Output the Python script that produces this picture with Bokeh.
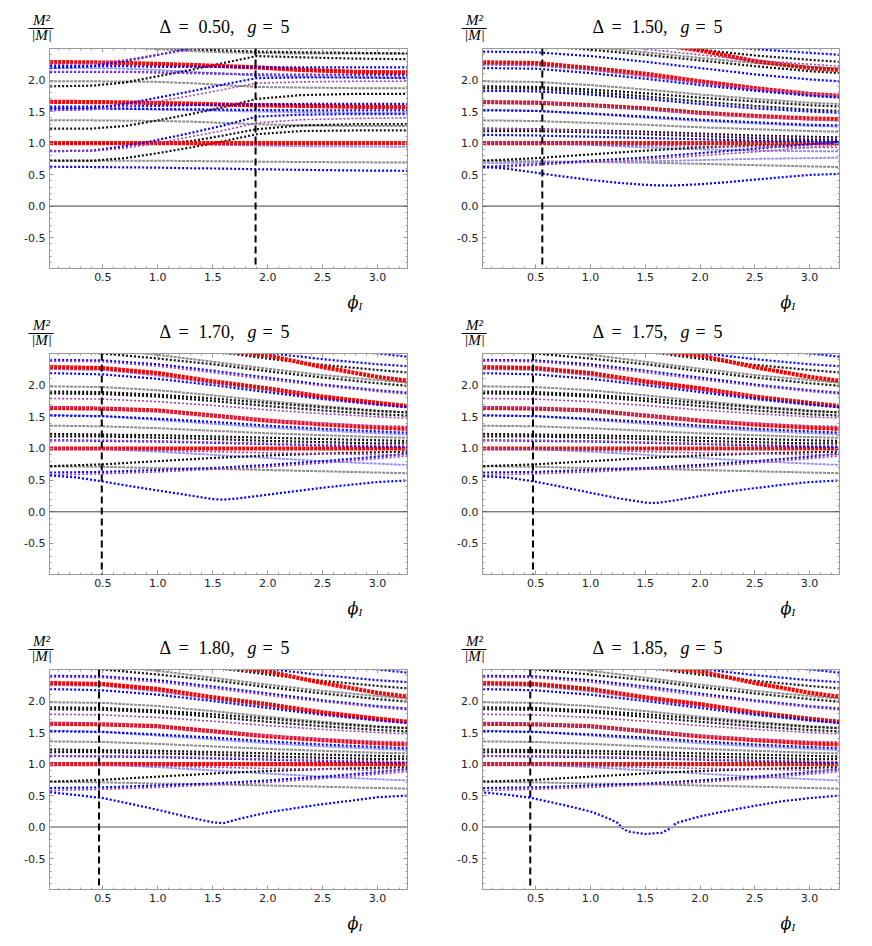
from bokeh.plotting import figure
from bokeh.models import Span, FixedTicker, LinearAxis, PrintfTickFormatter, Range1d
from bokeh.layouts import column, row
from bokeh.core.properties import value
from bokeh.embed import file_html
from bokeh.resources import INLINE

# ---------------- data ----------------
DELTAS = ["0.50", "1.50", "1.70", "1.75", "1.80", "1.85"]
DASH_X = [1.89, 0.56, 0.49, 0.475, 0.465, 0.45]
XTICKS = [0.5, 1.0, 1.5, 2.0, 2.5, 3.0]
YTICKS = [-0.5, 0.0, 0.5, 1.0, 1.5, 2.0]

X10 = [0.02, 0.4, 0.7, 1.0, 1.3, 1.6, 1.9, 2.3, 2.8, 3.27]
X8 = [0.02, 0.5, 1.0, 1.5, 2.0, 2.5, 3.0, 3.27]
XD = [0.02, 0.25, 0.5, 0.75, 1.0, 1.25, 1.5, 1.6, 1.75, 2.0, 2.25, 2.5, 2.75, 3.0, 3.27]
XD6 = [0.03, 0.26, 0.445, 0.75, 1.0, 1.17, 1.25, 1.28, 1.34, 1.5, 1.65, 1.74, 1.78, 2.0, 2.25, 2.5, 2.75, 3.0, 3.27]
XRT = [1.65, 2.0, 2.5, 3.0, 3.27]
XRT2 = [1.75, 2.0, 2.5, 3.0, 3.27]

# panel 1 (Delta = 0.50), on X10
P1_RED = [
    [1.0, 1.0, 1.0, 1.0, 1.0, 1.0, 1.0, 1.0, 1.0, 1.0],
    [1.655, 1.65, 1.645, 1.635, 1.625, 1.61, 1.60, 1.59, 1.575, 1.57],
    [2.285, 2.28, 2.27, 2.255, 2.24, 2.22, 2.20, 2.16, 2.13, 2.12],
]
P1_BLUE = [
    [0.625, 0.62, 0.615, 0.61, 0.60, 0.595, 0.585, 0.575, 0.565, 0.56],
    [0.87, 0.88, 0.95, 1.05, 1.16, 1.28, 1.42, 1.45, 1.46, 1.46],
    [1.52, 1.54, 1.62, 1.72, 1.82, 1.93, 2.03, 2.04, 2.04, 2.03],
    [2.19, 2.22, 2.30, 2.40, 2.50, 2.60, 2.70, 2.70, 2.70, 2.70],
    [1.58, 1.58, 1.585, 1.59, 1.60, 1.61, 1.615, 1.62, 1.62, 1.62],
    [1.55, 1.55, 1.545, 1.54, 1.535, 1.53, 1.525, 1.52, 1.52, 1.52],
    [2.13, 2.13, 2.13, 2.12, 2.11, 2.10, 2.09, 2.085, 2.08, 2.08],
    [2.22, 2.22, 2.22, 2.21, 2.21, 2.21, 2.20, 2.20, 2.20, 2.20],
]
P1_PURPLE = [
    [0.87, 0.87, 0.92, 1.0, 1.1, 1.2, 1.32, 1.37, 1.39, 1.40],
    [1.52, 1.53, 1.58, 1.66, 1.75, 1.85, 1.95, 1.97, 1.98, 1.98],
    [2.13, 2.13, 2.13, 2.12, 2.11, 2.10, 2.09, 2.08, 2.07, 2.06],
    [2.25, 2.26, 2.32, 2.40, 2.48, 2.56, 2.62, 2.62, 2.62, 2.62],
]
P1_BLACK = [
    [0.72, 0.72, 0.76, 0.84, 0.93, 1.03, 1.14, 1.19, 1.20, 1.20],
    [1.23, 1.23, 1.27, 1.36, 1.46, 1.57, 1.70, 1.76, 1.78, 1.78],
    [1.90, 1.91, 1.96, 2.06, 2.16, 2.27, 2.38, 2.36, 2.34, 2.33],
    [1.0, 1.0, 1.0, 1.0, 1.03, 1.12, 1.22, 1.28, 1.30, 1.30],
    [2.62, 2.60, 2.56, 2.52, 2.49, 2.47, 2.45, 2.44, 2.43, 2.42],
]
P1_GRAY = [
    [0.72, 0.72, 0.72, 0.72, 0.715, 0.71, 0.705, 0.70, 0.695, 0.69],
    [1.36, 1.36, 1.355, 1.35, 1.34, 1.32, 1.30, 1.28, 1.27, 1.27],
    [1.98, 1.98, 1.975, 1.97, 1.95, 1.92, 1.89, 1.88, 1.87, 1.87],
    [2.56, 2.55, 2.52, 2.49, 2.46, 2.44, 2.43, 2.42, 2.42, 2.42],
]
P1_LBLUE = [
    [1.0, 1.0, 0.995, 0.99, 0.98, 0.97, 0.96, 0.95, 0.945, 0.94],
    [1.55, 1.55, 1.54, 1.53, 1.52, 1.51, 1.50, 1.49, 1.48, 1.48],
    [2.19, 2.19, 2.18, 2.16, 2.13, 2.10, 2.07, 2.05, 2.04, 2.03],
]

# panel 2 (Delta = 1.50), on X8
P2_RED = [
    [1.0, 1.0, 1.0, 1.0, 1.0, 1.0, 1.0, 1.0],
    [1.65, 1.64, 1.60, 1.55, 1.48, 1.43, 1.39, 1.38],
    [2.28, 2.27, 2.19, 2.10, 1.98, 1.87, 1.78, 1.75],
]
P2_RED_TOP = [2.53, 2.47, 2.30, 2.19, 2.16]
P2_DIP = [0.63, 0.59, 0.53, 0.47, 0.415, 0.37, 0.337, 0.33, 0.326, 0.347, 0.38, 0.42, 0.458, 0.495, 0.51]
P2_BLUE = [
    [0.62, 0.66, 0.72, 0.77, 0.84, 0.91, 0.98, 1.02],
    [1.13, 1.12, 1.10, 1.08, 1.06, 1.04, 1.03, 1.02],
    [1.52, 1.51, 1.47, 1.42, 1.37, 1.33, 1.29, 1.28],
    [1.83, 1.82, 1.77, 1.70, 1.62, 1.55, 1.50, 1.48],
    [2.19, 2.18, 2.11, 2.02, 1.92, 1.83, 1.75, 1.72],
    [2.45, 2.44, 2.38, 2.29, 2.19, 2.09, 2.01, 1.98],
    [2.90, 2.85, 2.77, 2.68, 2.58, 2.49, 2.43, 2.40],
]
P2_PURPLE = [
    [0.60, 0.65, 0.70, 0.74, 0.80, 0.86, 0.93, 0.97],
    [1.0, 1.0, 0.98, 0.96, 0.95, 0.94, 0.93, 0.93],
    [1.23, 1.22, 1.19, 1.16, 1.13, 1.10, 1.08, 1.07],
    [1.65, 1.64, 1.59, 1.53, 1.47, 1.41, 1.37, 1.35],
    [2.24, 2.23, 2.16, 2.06, 1.96, 1.86, 1.78, 1.75],
    [2.70, 2.66, 2.58, 2.49, 2.40, 2.31, 2.25, 2.22],
]
P2_BLACK = [
    [0.72, 0.76, 0.82, 0.88, 0.93, 0.96, 0.98, 0.99],
    [1.19, 1.19, 1.17, 1.14, 1.11, 1.08, 1.06, 1.05],
    [1.23, 1.22, 1.20, 1.18, 1.15, 1.12, 1.10, 1.09],
    [1.87, 1.86, 1.81, 1.74, 1.66, 1.59, 1.53, 1.51],
    [1.90, 1.89, 1.85, 1.79, 1.72, 1.66, 1.60, 1.58],
    [2.60, 2.55, 2.48, 2.40, 2.31, 2.22, 2.14, 2.11],
    [2.80, 2.75, 2.67, 2.58, 2.48, 2.39, 2.32, 2.29],
]
P2_GRAY = [
    [0.72, 0.71, 0.70, 0.69, 0.67, 0.65, 0.63, 0.62],
    [1.36, 1.35, 1.32, 1.29, 1.25, 1.22, 1.19, 1.18],
    [1.98, 1.97, 1.92, 1.85, 1.77, 1.70, 1.64, 1.62],
    [2.65, 2.60, 2.52, 2.44, 2.35, 2.27, 2.21, 2.18],
]
P2_LBLUE = [
    [0.68, 0.69, 0.70, 0.71, 0.73, 0.75, 0.76, 0.77],
    [1.0, 1.0, 0.97, 0.93, 0.90, 0.88, 0.87, 0.87],
    [1.53, 1.51, 1.46, 1.40, 1.35, 1.31, 1.27, 1.26],
    [2.25, 2.24, 2.16, 2.06, 1.95, 1.85, 1.77, 1.74],
]

# panels 3-6 (Delta = 1.70 ... 1.85): upper spectrum, on X8
B_RED = [
    [1.0, 1.0, 1.0, 1.0, 1.0, 1.0, 1.0, 1.0],
    [1.64, 1.63, 1.60, 1.52, 1.44, 1.38, 1.33, 1.31],
    [2.285, 2.27, 2.19, 2.06, 1.95, 1.82, 1.72, 1.67],
]
B_RED_TOP = [2.53, 2.47, 2.285, 2.13, 2.07]
B_BLUE = [
    [0.62, 0.63, 0.66, 0.69, 0.74, 0.80, 0.87, 0.92],
    [1.13, 1.12, 1.11, 1.09, 1.07, 1.05, 1.03, 1.02],
    [1.52, 1.51, 1.47, 1.42, 1.36, 1.31, 1.27, 1.25],
    [2.19, 2.17, 2.10, 2.00, 1.89, 1.78, 1.69, 1.65],
    [2.40, 2.39, 2.33, 2.23, 2.12, 2.01, 1.92, 1.88],
    [2.85, 2.80, 2.72, 2.62, 2.51, 2.41, 2.33, 2.30],
    [3.00, 2.95, 2.88, 2.78, 2.68, 2.58, 2.50, 2.45],
]
B_PURPLE = [
    [0.58, 0.60, 0.63, 0.67, 0.71, 0.77, 0.84, 0.88],
    [1.0, 0.99, 0.97, 0.95, 0.93, 0.92, 0.90, 0.90],
    [1.13, 1.13, 1.12, 1.10, 1.08, 1.06, 1.05, 1.04],
    [1.65, 1.64, 1.59, 1.52, 1.45, 1.40, 1.36, 1.35],
    [1.79, 1.78, 1.74, 1.68, 1.61, 1.55, 1.50, 1.48],
    [2.38, 2.37, 2.30, 2.20, 2.09, 1.99, 1.90, 1.86],
]
B_BLACK = [
    [0.72, 0.75, 0.80, 0.85, 0.89, 0.92, 0.94, 0.95],
    [1.19, 1.19, 1.17, 1.15, 1.12, 1.10, 1.08, 1.08],
    [1.23, 1.22, 1.21, 1.19, 1.17, 1.15, 1.13, 1.12],
    [1.87, 1.86, 1.82, 1.75, 1.67, 1.60, 1.54, 1.52],
    [1.90, 1.89, 1.85, 1.79, 1.72, 1.65, 1.59, 1.57],
    [2.55, 2.50, 2.42, 2.33, 2.22, 2.12, 2.03, 1.99],
    [2.75, 2.70, 2.62, 2.53, 2.42, 2.32, 2.24, 2.20],
]
B_GRAY = [
    [0.72, 0.71, 0.69, 0.68, 0.66, 0.64, 0.62, 0.61],
    [1.36, 1.35, 1.32, 1.28, 1.24, 1.21, 1.18, 1.17],
    [1.98, 1.97, 1.92, 1.84, 1.75, 1.67, 1.60, 1.57],
    [2.60, 2.56, 2.48, 2.37, 2.26, 2.16, 2.08, 2.04],
]
B_LBLUE = [
    [1.0, 0.99, 0.95, 0.90, 0.85, 0.80, 0.76, 0.74],
    [1.53, 1.51, 1.45, 1.39, 1.33, 1.28, 1.24, 1.22],
    [2.25, 2.24, 2.15, 2.03, 1.92, 1.80, 1.70, 1.67],
]
# lowest blue branch in panels 3, 4, 5 (on XD) and 6 (on XD6)
P3_DIP = [0.573, 0.545, 0.479, 0.405, 0.337, 0.27, 0.20, 0.192, 0.215, 0.27, 0.326, 0.38, 0.427, 0.47, 0.495]
P4_DIP = [0.562, 0.54, 0.475, 0.39, 0.30, 0.215, 0.145, 0.14, 0.175, 0.248, 0.32, 0.374, 0.427, 0.469, 0.495]
P5_DIP = [0.553, 0.51, 0.46, 0.369, 0.274, 0.169, 0.075, 0.063, 0.135, 0.232, 0.30, 0.364, 0.416, 0.474, 0.50]
P6_DIP = [0.548, 0.51, 0.468, 0.352, 0.248, 0.132, 0.064, 0.0, -0.07, -0.11, -0.09, -0.01, 0.064, 0.17, 0.259, 0.338, 0.41, 0.46, 0.50]

# ---------------- styles ----------------
STY = {
    "gray":   dict(line_color="#8c8c8c", line_width=2.0, line_dash="3 1"),
    "lblue":  dict(line_color="#8c8cff", line_width=1.8, line_dash="3 1"),
    "black":  dict(line_color="#111111", line_width=2.2, line_dash="2 2"),
    "red":    dict(line_color="#ff0000", line_width=4.2, line_dash="3 1"),
    "blue":   dict(line_color="#0000ff", line_width=2.2, line_dash="2 2"),
    "purple": dict(line_color="#a040b0", line_width=1.6, line_dash="2 2"),
}
ORDER = ["gray", "lblue", "black", "red", "blue", "purple"]

SPECS = [
    dict(x=X10, sets=dict(gray=P1_GRAY, lblue=P1_LBLUE, black=P1_BLACK, red=P1_RED, blue=P1_BLUE, purple=P1_PURPLE),
         extra=[], zero=("#444444", 1.0)),
    dict(x=X8, sets=dict(gray=P2_GRAY, lblue=P2_LBLUE, black=P2_BLACK, red=P2_RED, blue=P2_BLUE, purple=P2_PURPLE),
         extra=[(XRT2, P2_RED_TOP, "red"), (XD, P2_DIP, "blue")], zero=("#444444", 1.0)),
    dict(x=X8, sets=dict(gray=B_GRAY, lblue=B_LBLUE, black=B_BLACK, red=B_RED, blue=B_BLUE, purple=B_PURPLE),
         extra=[(XRT, B_RED_TOP, "red"), (XD, P3_DIP, "blue")], zero=("#444444", 1.0)),
    dict(x=X8, sets=dict(gray=B_GRAY, lblue=B_LBLUE, black=B_BLACK, red=B_RED, blue=B_BLUE, purple=B_PURPLE),
         extra=[(XRT, B_RED_TOP, "red"), (XD, P4_DIP, "blue")], zero=("#444444", 1.0)),
    dict(x=X8, sets=dict(gray=B_GRAY, lblue=B_LBLUE, black=B_BLACK, red=B_RED, blue=B_BLUE, purple=B_PURPLE),
         extra=[(XRT, B_RED_TOP, "red"), (XD, P5_DIP, "blue")], zero=("#a8a8a8", 2.0)),
    dict(x=X8, sets=dict(gray=B_GRAY, lblue=B_LBLUE, black=B_BLACK, red=B_RED, blue=B_BLUE, purple=B_PURPLE),
         extra=[(XRT, B_RED_TOP, "red"), (XD6, P6_DIP, "blue")], zero=("#a8a8a8", 2.0)),
]

FRAME = "#9a9a9a"
COLW = [436, 428]          # figure widths per column
FRAME_LEFT = [49, 46]      # frame left offset inside figure
FRAME_W = [358, 357]
HEAD_H = [42, 31, 41]      # header strip height per row
FRAME_H = [220, 221, 220]
TOP_B, BOT_B, FOOT_H = 6, 24, 24


def blank(w, h):
    f = figure(width=w, height=h, x_range=Range1d(0, w), y_range=Range1d(0, h),
               x_axis_type=None, y_axis_type=None, min_border=0,
               min_border_left=0, min_border_right=0, min_border_top=0, min_border_bottom=0,
               frame_align=False,
               output_backend="svg", toolbar_location=None, outline_line_color=None,
               background_fill_color="white", border_fill_color="white")
    f.grid.visible = False
    return f


def put(f, x, y, s, size, font="Liberation Serif", style="normal", align="left"):
    f.text(x=[x], y=[y], text=[s], text_font=value(font), text_font_size=value(size),
           text_font_style=style, text_align=align, text_baseline="middle", text_color="black")


def style_axis(ax, show_labels):
    ax.axis_line_color = FRAME
    ax.major_tick_line_color = FRAME
    ax.minor_tick_line_color = FRAME
    ax.major_tick_in = 4
    ax.major_tick_out = 0
    ax.minor_tick_in = 2
    ax.minor_tick_out = 0
    if show_labels:
        ax.major_label_text_font = "DejaVu Sans"
        ax.major_label_text_font_size = "11px"
        ax.major_label_text_color = "#222222"
        ax.major_label_standoff = 4
        ax.formatter = PrintfTickFormatter(format="%.1f")
    else:
        ax.major_label_text_font_size = "0px"
        ax.major_label_text_alpha = 0
        ax.major_label_standoff = 0


def make_header(idx):
    ci, ri = idx % 2, idx // 2
    w, h, fl = COLW[ci], HEAD_H[ri], FRAME_LEFT[ci]
    f = blank(w, h)
    ty = 16
    put(f, fl + 110, ty, "\u0394", "18px")
    put(f, fl + 129, ty, "=", "18px")
    put(f, fl + 149, ty, DELTAS[idx] + ",", "18px")
    put(f, fl + 198, ty, "g", "18px", style="italic")
    put(f, fl + 213, ty, "=", "18px")
    put(f, fl + 231, ty, "5", "18px")
    put(f, fl - 8, 22.5, "M\u00b2", "15px", style="italic", align="center")
    f.segment(x0=[fl - 21], y0=[14], x1=[fl + 4], y1=[14], line_color="black", line_width=1)
    put(f, fl - 8, 7.5, "|M|", "15px", style="italic", align="center")
    return f


def make_footer(idx):
    ci = idx % 2
    w, fl = COLW[ci], FRAME_LEFT[ci]
    f = blank(w, FOOT_H)
    put(f, fl + 298, 14, "\u03d5", "16px", font="DejaVu Serif", style="italic")
    put(f, fl + 309, 11, "I", "11px", style="italic")
    return f


def make_panel(idx):
    ci, ri = idx % 2, idx // 2
    spec = SPECS[idx]
    fw, fl, fh = FRAME_W[ci], FRAME_LEFT[ci], FRAME_H[ri]
    p = figure(frame_width=fw, frame_height=fh, min_border_left=fl,
               min_border_right=COLW[ci] - fl - fw,
               min_border_top=TOP_B, min_border_bottom=BOT_B,
               x_range=Range1d(0.014, 3.273), y_range=Range1d(-0.99, 2.5),
               output_backend="svg", toolbar_location=None,
               background_fill_color="white", border_fill_color="white",
               outline_line_color=FRAME)
    p.grid.visible = False
    xt = FixedTicker(ticks=XTICKS, minor_ticks=[i / 10 for i in range(1, 33)])
    yt = FixedTicker(ticks=YTICKS, minor_ticks=[i / 10 for i in range(-9, 25)])
    p.xaxis.ticker = xt
    p.yaxis.ticker = yt
    style_axis(p.xaxis[0], True)
    style_axis(p.yaxis[0], True)
    ax_top = LinearAxis(ticker=xt)
    ax_right = LinearAxis(ticker=yt)
    style_axis(ax_top, False)
    style_axis(ax_right, False)
    p.add_layout(ax_top, "above")
    p.add_layout(ax_right, "right")

    zc, zw = spec["zero"]
    p.add_layout(Span(location=0, dimension="width", line_color=zc, line_width=zw))

    xs = spec["x"]
    for key in ORDER:
        for ys in spec["sets"][key]:
            p.line(xs, ys, line_cap="butt", **STY[key])
        if key == "red":
            for ex, ey, st in spec["extra"]:
                if st == "red":
                    p.line(ex, ey, line_cap="butt", **STY[st])
    for ex, ey, st in spec["extra"]:
        if st != "red":
            p.line(ex, ey, line_cap="butt", **STY[st])

    p.add_layout(Span(location=DASH_X[idx], dimension="height", line_color="black",
                      line_width=2, line_dash="7 4"))
    return p


cells = [column(make_header(i), make_panel(i), make_footer(i)) for i in range(6)]
layout = column(row(cells[0], cells[1]), row(cells[2], cells[3]), row(cells[4], cells[5]))
open("out.html", "w").write(file_html(layout, INLINE))
